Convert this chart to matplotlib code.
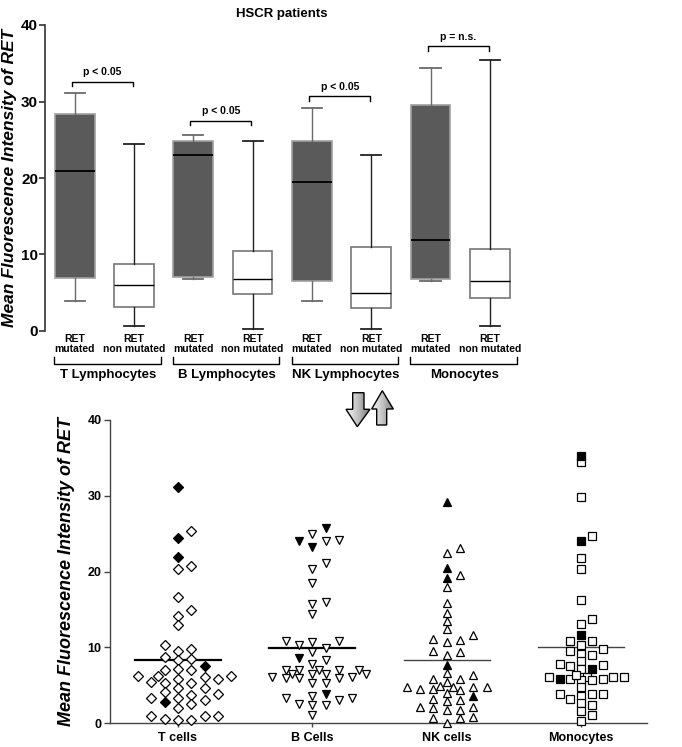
import matplotlib
matplotlib.use("Agg")
import matplotlib.pyplot as plt
import numpy as np
from matplotlib.patches import Polygon

NARROW = ['Liberation Sans Narrow', 'Liberation Sans', 'DejaVu Sans']
ARIAL = ['Liberation Sans', 'DejaVu Sans']

# ---------------------------------------------------------------- top panel
groups = ["T Lymphocytes", "B Lymphocytes", "NK Lymphocytes", "Monocytes"]
mut_low = [3.9, 6.8, 3.9, 6.5]
mut_q1 = [6.9, 7.0, 6.6, 6.8]
mut_med = [20.9, 23.0, 19.5, 11.9]
mut_q3 = [28.4, 24.8, 24.9, 29.5]
mut_high = [31.1, 25.6, 29.2, 34.4]
non_low = [0.6, 0.3, 0.25, 0.6]
non_q1 = [3.2, 4.9, 3.0, 4.3]
non_med = [6.0, 6.8, 5.0, 6.5]
non_q3 = [8.7, 10.5, 11.0, 10.7]
non_high = [24.4, 24.9, 23.0, 35.4]
p_text = ["p < 0.05", "p < 0.05", "p < 0.05", "p = n.s."]
p_level = [32.6, 27.5, 30.7, 37.2]

# ------------------------------------------------------------- bottom panel
cell_names = ["T cells", "B Cells", "NK cells", "Monocytes"]
t_open = [25.4, 20.8, 20.3, 16.6, 14.9, 14.1, 12.9, 10.3, 9.8, 9.6, 8.8, 8.5,
          8.3, 7.0, 7.0, 7.1, 6.3, 6.2, 6.2, 6.1, 5.9, 5.8, 5.4, 5.3, 5.3, 4.7,
          4.7, 4.1, 3.9, 3.7, 3.4, 3.4, 3.1, 2.5, 2.0, 1.0, 1.0, 0.9, 0.6, 0.4,
          0.4]
t_filled = [31.1, 24.4, 21.9, 7.6, 2.8]
b_open = [25.0, 24.0, 24.2, 21.1, 20.3, 18.5, 15.7, 16.0, 14.4, 10.8, 10.3,
          9.4, 9.9, 10.7, 10.85, 8.35, 7.8, 7.0, 7.0, 7.0, 7.0, 7.0, 6.45,
          6.45, 6.45, 6.45, 6.15, 5.95, 5.95, 5.3, 5.3, 5.95, 6.05, 3.6, 3.3,
          3.1, 3.3, 2.4, 2.4, 2.5, 1.1]
b_filled = [25.8, 23.3, 24.0, 8.65, 3.8]
nk_open = [23.1, 22.5, 19.6, 18.0, 15.9, 14.5, 13.5, 12.4, 11.6, 11.1, 10.7,
           11.0, 9.45, 9.6, 9.0, 6.6, 5.9, 5.9, 6.4, 5.5, 4.75, 4.75, 4.5, 4.9,
           4.8, 4.4, 4.5, 4.75, 4.0, 3.2, 3.0, 3.1, 1.8, 2.2, 2.0, 2.2, 1.8,
           0.65, 0.8, 0.7, 0.1]
nk_filled = [29.2, 20.5, 19.2, 7.7, 3.6]
mono_open = [34.4, 29.8, 24.7, 21.8, 20.4, 16.3, 13.7, 13.1, 10.8, 10.9, 10.3,
             9.6, 9.2, 9.75, 9.0, 8.2, 7.7, 7.8, 7.6, 7.1, 6.15, 6.15, 6.15,
             6.15, 5.85, 5.85, 5.7, 6.4, 5.7, 4.75, 3.8, 3.6, 3.2, 3.8, 3.9,
             2.7, 2.4, 1.6, 1.1, 0.35]
mono_filled = [35.3, 24.1, 11.65, 7.1, 5.85]
center_line = [8.4, 9.9, 8.35, 10.0]

# slot order for the dot plot: whole columns near the centre first,
# then half columns, then further out
SLOTS = [0, 1, -1, 2, -2, 3, -3, 0.5, -0.5, 1.5, -1.5, 2.5, -2.5, 3.5, -3.5,
         4, -4, 4.5, -4.5, 5, -5, 5.5, -5.5, 6, -6]


def swarm(ax, x0, values, diam, col_px):
    # greedy dot plot, lowest values first, first free slot in SLOTS
    tr = ax.transData
    inv = tr.inverted()
    cx = tr.transform((x0, 0))[0]
    placed = []
    xs = np.zeros(len(values))
    for i in np.argsort(values, kind="stable"):
        py = tr.transform((x0, values[i]))[1]
        for k in SLOTS:
            px = cx + k * col_px
            if all((px - qx) ** 2 + (py - qy) ** 2 >= diam ** 2
                   for qx, qy in placed):
                break
        placed.append((px, py))
        xs[i] = inv.transform((px, py))[0]
    return xs


fig = plt.figure(figsize=(6.82, 7.47), dpi=100)

# ================================================================ top panel
ax1 = fig.add_axes([45 / 682, 416 / 747, 474.5 / 682, 306 / 747])
ax1.set_xlim(0.5, 8.5)
ax1.set_ylim(0, 40)

stats = []
positions = []
for i in range(4):
    stats.append(dict(whislo=mut_low[i], q1=mut_q1[i], med=mut_med[i],
                      q3=mut_q3[i], whishi=mut_high[i], fliers=[]))
    positions.append(2 * i + 1)
for i in range(4):
    stats.append(dict(whislo=non_low[i], q1=non_q1[i], med=non_med[i],
                      q3=non_q3[i], whishi=non_high[i], fliers=[]))
    positions.append(2 * i + 2)

b = ax1.bxp(stats, positions=positions, widths=0.67, patch_artist=True,
            showfliers=False, manage_ticks=False)
for j, box in enumerate(b["boxes"]):
    if j < 4:
        box.set_facecolor("#5a5a5a")
        box.set_edgecolor("#a0a0a0")
    else:
        box.set_facecolor("white")
        box.set_edgecolor("#777777")
    box.set_linewidth(1.2)
for j, ln in enumerate(b["medians"]):
    ln.set_color("black")
    ln.set_linewidth(1.3 if j < 4 else 1.0)
for j, ln in enumerate(b["whiskers"]):
    ln.set_color("#6a6a6a" if j < 8 else "#222222")
    ln.set_linewidth(1.0)
for j, ln in enumerate(b["caps"]):
    ln.set_color("#6a6a6a" if j < 8 else "#222222")
    ln.set_linewidth(1.3)
    xd = ln.get_xdata()
    c = (xd[0] + xd[1]) / 2
    ln.set_xdata([c - 0.17, c + 0.17])

for s in ["top", "right", "bottom"]:
    ax1.spines[s].set_visible(False)
ax1.spines["left"].set_linewidth(1.2)
ax1.spines["left"].set_color("#333333")
ax1.set_xticks([])
ax1.set_yticks([0, 10, 20, 30, 40])
ax1.tick_params(axis="y", length=4, width=1.2, color="#333333", pad=1)
for t in ax1.get_yticklabels():
    t.set_family(NARROW)
    t.set_fontweight("bold")
    t.set_fontsize(11)
ax1.set_ylabel("Mean Fluorescence Intensity of RET", family=ARIAL,
               fontweight="bold", style="italic", fontsize=12.5, labelpad=3)
ax1.set_title("HSCR patients", family=NARROW, fontweight="bold", fontsize=9.5,
              pad=6)

for i in range(4):
    m = 2 * i + 1
    n = 2 * i + 2
    ax1.text(m, -0.35, "RET\nmutated", ha="center", va="top", family=NARROW,
             fontweight="bold", fontsize=7.5, linespacing=1.0, clip_on=False)
    ax1.text(n, -0.35, "RET\nnon mutated", ha="center", va="top",
             family=NARROW, fontweight="bold", fontsize=7.5, linespacing=1.0,
             clip_on=False)
    # group bracket under the pair
    ax1.plot([m - 0.34, m - 0.34, n + 0.45, n + 0.45], [-3.4, -4.3, -4.3, -3.4],
             color="black", lw=1.0, clip_on=False)
    ax1.text(m + 0.57, -5.0, groups[i], ha="center", va="top", family=NARROW,
             fontweight="bold", fontsize=9.5, clip_on=False)
    # significance bracket
    y = p_level[i]
    ax1.plot([m - 0.05, m - 0.05, n - 0.02, n - 0.02], [y - 0.6, y, y, y - 0.6],
             color="black", lw=1.0, clip_on=False)
    ax1.text((m + n) / 2 - 0.03, y + 0.6, p_text[i], ha="center",
             va="bottom", family=NARROW, fontweight="bold", fontsize=7.5)

# ============================================================= bottom panel
ax2 = fig.add_axes([110 / 682, 23.7 / 747, 537 / 682, 303.3 / 747])
ax2.set_xlim(0.494, 4.49)
ax2.set_ylim(0, 40)

sets = [(t_open, t_filled, "D", 4.8, 8.5, 13.3),
        (b_open, b_filled, "v", 6.2, 7.5, 13.3),
        (nk_open, nk_filled, "^", 6.2, 7.2, 13.3),
        (mono_open, mono_filled, "s", 5.2, 6.2, 10.7)]
for i, (op, fi, mk, ms, diam, col_px) in enumerate(sets):
    vals = np.array(op + fi)
    xs = swarm(ax2, i + 1, vals, diam, col_px)
    n_open = len(op)
    ax2.plot(xs[:n_open], vals[:n_open], linestyle="none", marker=mk,
             markersize=ms, markerfacecolor="white", markeredgecolor="black",
             markeredgewidth=0.9, clip_on=False, zorder=3)
    ax2.plot(xs[n_open:], vals[n_open:], linestyle="none", marker=mk,
             markersize=ms, markerfacecolor="black", markeredgecolor="black",
             markeredgewidth=0.9, clip_on=False, zorder=4)
    thick = i < 2
    ax2.plot([i + 1 - 0.32, i + 1 + 0.32], [center_line[i]] * 2,
             color="black" if thick else "#444444", lw=1.6 if thick else 1.0,
             zorder=2)

for s in ["top", "right"]:
    ax2.spines[s].set_visible(False)
for s in ["left", "bottom"]:
    ax2.spines[s].set_linewidth(1.0)
    ax2.spines[s].set_color("#444444")
ax2.set_xticks([1, 2, 3, 4])
ax2.set_xticklabels(cell_names, family=ARIAL, fontweight="bold", fontsize=9)
ax2.set_yticks([0, 10, 20, 30, 40])
for t in ax2.get_yticklabels():
    t.set_family(ARIAL)
    t.set_fontweight("bold")
    t.set_fontsize(9)
ax2.tick_params(axis="y", length=4, width=1.0, color="#444444", pad=2)
ax2.tick_params(axis="x", length=3, width=1.0, color="#444444", pad=3)
ax2.set_ylabel("Mean Fluorescence Intensity of RET", family=ARIAL,
               fontweight="bold", style="italic", fontsize=13, labelpad=9)

# ----------------------------------------------- shaded arrows between panels
axa = fig.add_axes([340 / 682, (747 - 432) / 747, 60 / 682, 44 / 747])
axa.axis("off")
down = [(352.7, 392.7), (364, 392.7), (364, 409.3), (370, 409.3),
        (357.3, 426.7), (346, 409.3), (352.7, 409.3)]
up = [(376.7, 425), (386.7, 425), (386.7, 409), (393.3, 409),
      (382.3, 390.7), (371.7, 409), (376.7, 409)]
grad = np.linspace(0.12, 0.6, 64).reshape(1, -1)
for shape, x0, x1 in [(down, 346, 370), (up, 371.7, 393.3)]:
    poly = Polygon(shape, closed=True, facecolor="none", edgecolor="black",
                   lw=1.0, zorder=3)
    axa.add_patch(poly)
    im = axa.imshow(grad, cmap="Greys", vmin=0, vmax=1, aspect="auto",
                    extent=(x0, x1, 427, 390), zorder=2)
    im.set_clip_path(poly)
axa.set_xlim(340, 400)
axa.set_ylim(432, 388)

fig.savefig("out.png", dpi=100)
